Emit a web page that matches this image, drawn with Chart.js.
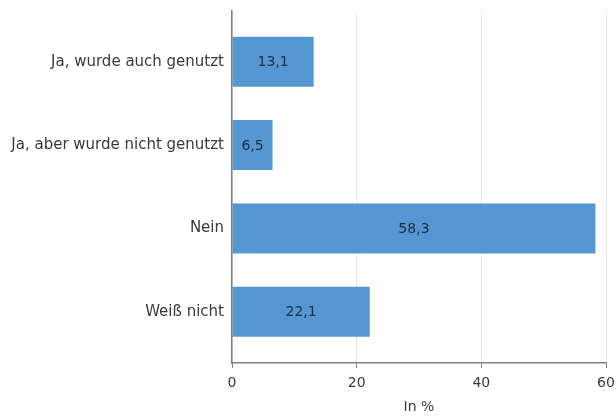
<!DOCTYPE html>
<html>
<head>
<meta charset="utf-8">
<script src="https://cdn.jsdelivr.net/npm/chart.js@4"></script>
<style>
  html, body { margin: 0; padding: 0; background: #fff; }
  #wrap { width: 616px; height: 416px; }
</style>
</head>
<body>
<div id="wrap"><canvas id="umfrageChart"></canvas></div>
<script>
const categories = ['Ja, wurde auch genutzt', 'Ja, aber wurde nicht genutzt', 'Nein', 'Weiß nicht'];
const values = [13.1, 6.5, 58.3, 22.1];
const xTicks = [0, 20, 40, 60];
const axisTitle = 'In %';

const FONT = '"DejaVu Sans", sans-serif';

// the bands sit a little inside the axis lines, like in the original
const bandInset = {
    id: 'bandInset',
    afterLayout: function(chart) {
        const y = chart.scales.y;
        y._startPixel = y.top + 9;
        y._endPixel = y.bottom - 9.5;
        y._length = y._endPixel - y._startPixel;
    }
};

// value in the middle of each bar, german decimal comma
const valueLabels = {
    id: 'valueLabels',
    afterDatasetsDraw: function(chart) {
        const ctx = chart.ctx;
        const meta = chart.getDatasetMeta(0);
        ctx.save();
        ctx.font = '14px ' + FONT;
        ctx.fillStyle = '#1f2d3d';
        ctx.textAlign = 'center';
        ctx.textBaseline = 'middle';
        meta.data.forEach(function(bar, i) {
            const p = bar.getCenterPoint();
            ctx.fillText(values[i].toFixed(1).replace('.', ','), p.x, p.y + 1);
        });
        ctx.restore();
    }
};

const ctx = document.getElementById('umfrageChart').getContext('2d');
new Chart(ctx, {
    type: 'bar',
    data: {
        labels: categories,
        datasets: [{
            data: values,
            backgroundColor: '#5597d3',
            borderWidth: 0,
            barPercentage: 0.6,
            categoryPercentage: 1
        }]
    },
    plugins: [bandInset, valueLabels],
    options: {
        indexAxis: 'y',
        responsive: true,
        maintainAspectRatio: false,
        animation: false,
        layout: {
            padding: { top: 11, right: 10, bottom: 0, left: 0 }
        },
        plugins: {
            legend: { display: false },
            tooltip: { enabled: false }
        },
        scales: {
            y: {
                grid: { display: false, drawTicks: false },
                border: { display: true, color: '#7f7f7f', width: 1.5 },
                ticks: {
                    color: '#3a3a3a',
                    padding: 8,
                    font: { family: FONT, size: 15 }
                },
                afterFit: function(scale) {
                    scale.width = 232;
                    scale.paddingTop = 0;
                    scale.paddingBottom = 0;
                }
            },
            x: {
                min: 0,
                max: 60,
                afterBuildTicks: function(scale) {
                    scale.ticks = xTicks.map(function(v) { return { value: v }; });
                },
                grid: {
                    color: '#e8e8e8',
                    tickColor: '#7f7f7f',
                    tickLength: 5,
                    lineWidth: 1
                },
                border: { display: true, color: '#7f7f7f', width: 1.5 },
                ticks: {
                    color: '#3a3a3a',
                    padding: 7,
                    maxRotation: 0,
                    font: { family: FONT, size: 14 }
                },
                title: {
                    display: true,
                    text: axisTitle,
                    color: '#3a3a3a',
                    padding: { top: 0, bottom: 0 },
                    font: { family: FONT, size: 14 }
                },
                afterFit: function(scale) {
                    scale.height = 53;
                    scale.paddingLeft = 0;
                    scale.paddingRight = 0;
                }
            }
        }
    }
});
</script>
</body>
</html>
